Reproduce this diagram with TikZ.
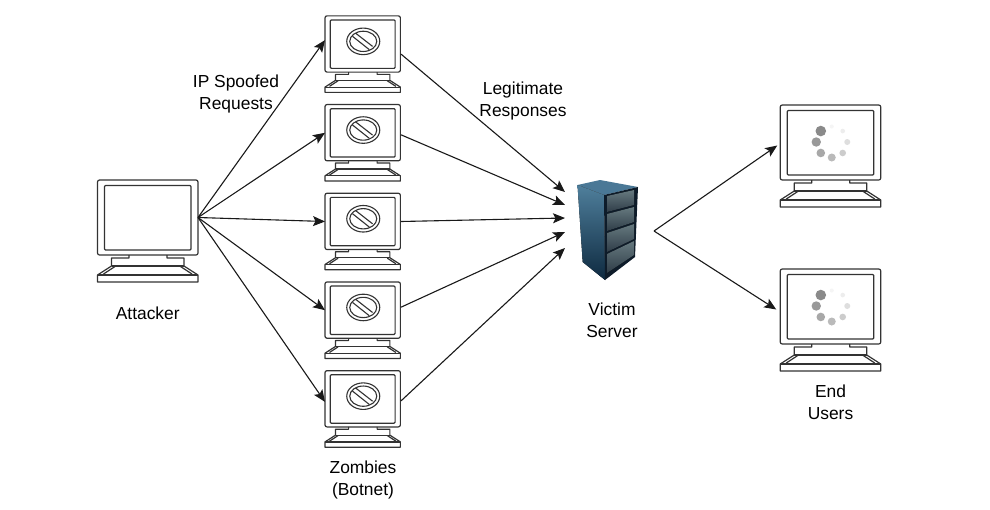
\documentclass[tikz,border=0pt]{standalone}
\usepackage{fontspec}
\setmainfont{Liberation Sans}
\usetikzlibrary{positioning,arrows.meta}
\definecolor{rackhigh}{HTML}{4F7F9C}
\definecolor{rackmid}{HTML}{10283C}
\definecolor{racklow}{HTML}{0E2A40}
\definecolor{racktop}{HTML}{4A7896}
\definecolor{rackframe}{HTML}{0E1C2A}
\definecolor{bayhigh}{HTML}{66797F}
\definecolor{baylow}{HTML}{2F3D48}

\begin{document}
\begin{tikzpicture}[x=1pt,y=1pt]
	\tikzset{bigbox/.style={rectangle,
				inner sep=0pt,
				outer sep=0pt,
				minimum width=100.5pt,
				minimum height=75pt},
			zombiebox/.style={bigbox,
				minimum width=76pt,
				minimum height=56.5pt},
			serverbox/.style={bigbox,
				minimum width=89pt,
				minimum height=100pt},
			caption/.style={inner sep=0pt,
				align=center,
				font=\fontsize{17.4}{22}\selectfont},
			arrow/.style={-{Stealth[length=12pt,width=10pt,inset=2.5pt]},
				line width=1.1pt,
				color=black!90},
			monitor/.pic={
				\begin{scope}[line width=1.2pt,draw=black!80,line join=round]
				\draw[rounded corners=2pt] (0,0) rectangle (100.5,-75);
				\draw[rounded corners=1pt] (7,-5.5) rectangle (93.5,-70);
				\draw (31.5,-75) -- (31.5,-78) -- (14,-78) -- (14,-86) -- (0,-95) -- (0,-102)
					-- (100.5,-102) -- (100.5,-95) -- (86.5,-86) -- (86.5,-78) -- (69.5,-78) -- (69.5,-75);
				\draw (14,-86) -- (86.5,-86);
				\draw (0,-95) -- (100.5,-95);
				\draw (6,-94) -- (17.5,-86.5);
				\draw (94.5,-94) -- (83,-86.5);
				\end{scope}
			},
			blocked/.pic={
				\begin{scope}[line width=1.1pt,draw=black!80]
				\draw (51,-34) ellipse [x radius=22,y radius=17.7];
				\draw (51,-34) ellipse [x radius=18,y radius=13.5];
				\draw (40.7,-23) -- (63.4,-40.7);
				\draw (36.7,-27.3) -- (59,-45);
				\end{scope}
			},
			spinner/.pic={
				\foreach \a/\r/\c in {135/5.3/46,180/4.7/40,225/4.3/34,270/4/27,315/3.3/20,0/3/13,45/2.3/7,90/2/4}
					\fill[black!\c!white] (51.5,-37) ++(\a:15.5) circle (\r);
			}}
	\useasboundingbox (0,0) rectangle (990,-509);
	\fill[white] (0,0) rectangle (990,-509);

	% Nodes
	\node[bigbox] (attacker) at (147.75,-217.5) {};
	\node[zombiebox] (z3) at (363,-221.5) {};
	\node[zombiebox, above=32.2pt of z3] (z2) {};
	\node[zombiebox, above=32.2pt of z2] (z1) {};
	\node[zombiebox, below=32.2pt of z3] (z4) {};
	\node[zombiebox, below=32.2pt of z4] (z5) {};
	\node[serverbox] (server) at (609.5,-231) {};
	\node[bigbox] (user1) at (830.5,-142.5) {};
	\node[bigbox] (user2) at (830.5,-306.5) {};

	% Monitors
	\foreach \n in {attacker,user1,user2}
		\pic at (\n.north west) {monitor};
	\foreach \n in {z1,z2,z3,z4,z5}{
		\pic[scale=.75] at (\n.north west) {monitor};
		\pic[scale=.75] at (\n.north west) {blocked};
	}
	\foreach \n in {user1,user2}
		\pic at (\n.north west) {spinner};

	% Server
	\fill[racktop] (577.5,-185) -- (600,-180) -- (638,-187) -- (604,-195) -- cycle;
	\fill[top color=rackhigh,middle color=rackmid,bottom color=racklow] (577.5,-185) -- (604,-195) -- (605,-280) -- (582.7,-262) -- cycle;
	\fill[rackframe] (604,-195) -- (638,-187) -- (635,-257) -- (605,-280) -- cycle;
	\foreach \a/\b/\c/\d in {-196/-190/-212/-205,-214/-207/-231/-222,-233/-224/-252/-239,-254/-241/-273/-255}
		\fill[top color=bayhigh,bottom color=baylow] (607,\a) -- (634,\b) -- (634,\d) -- (607,\c) -- cycle;

	% Arrows
	\foreach \n/\dy in {z1/4,z2/0,z3/0,z4/0,z5/-3}
		\draw[arrow] (attacker.east) -- ([yshift=\dy pt]\n.west);
	\foreach \n/\s/\dy in {z1/10/39,z2/2/26,z3/0/13,z4/-3/-1,z5/2/-17}
		\draw[arrow] ([yshift=-\s pt]\n.east) -- ([yshift=\dy pt]server.west);
	\draw[arrow] (server.east) -- ([shift={(-3pt,-3pt)}]user1.west);
	\draw[arrow] (server.east) -- ([shift={(-4pt,-3pt)}]user2.west);

	% Labels
	\node[caption, below=52pt of attacker] (attackerlabel) {Attacker};
	\node[caption, below=34pt of z5] (botnetlabel) {Zombies\\(Botnet)};
	\node[caption, below=22pt of server, xshift=2.5pt] (serverlabel) {Victim\\Server};
	\node[caption, below=41pt of user2] (userlabel) {End\\Users};
	\node[caption] (spoofedlabel) at (236,-94) {IP Spoofed\\Requests};
	\node[caption] (responselabel) at (523,-101) {Legitimate\\Responses};
\end{tikzpicture}
\end{document}
